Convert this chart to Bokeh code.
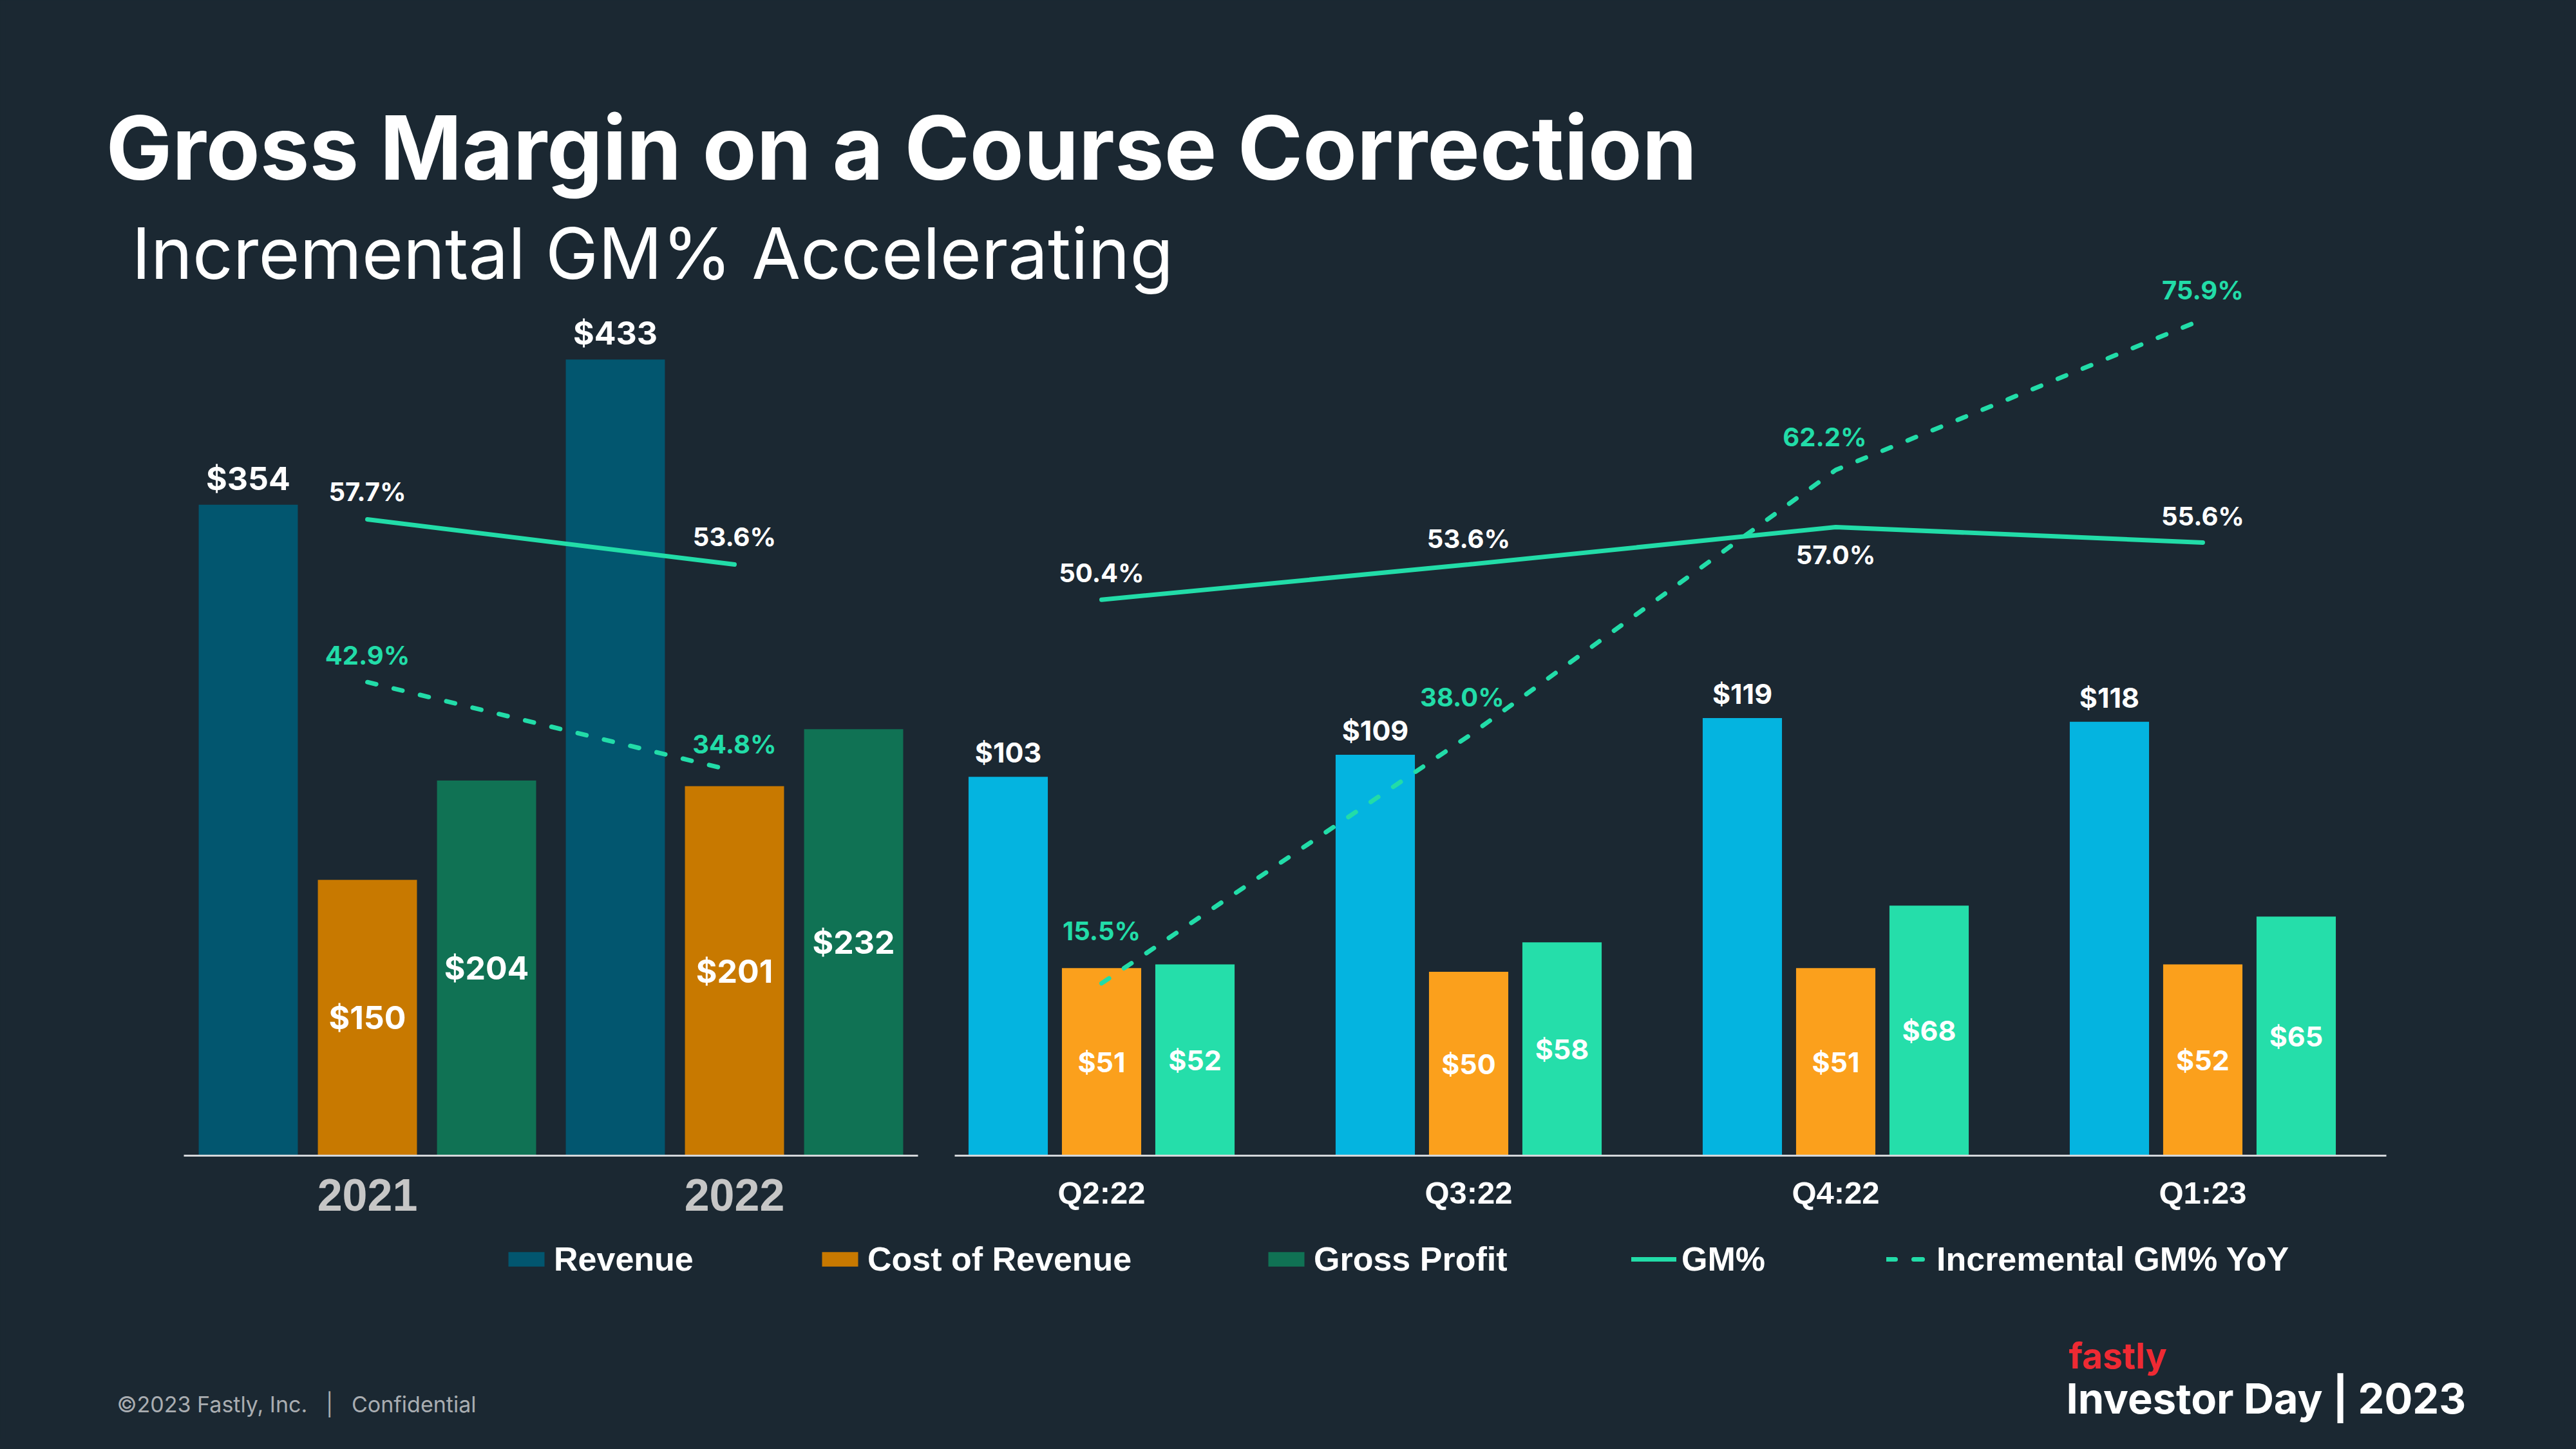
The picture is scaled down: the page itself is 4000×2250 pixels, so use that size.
import numpy as np
from bokeh.plotting import figure
from bokeh.models import (ColumnDataSource, FactorRange, Range1d, CategoricalAxis,
                          Label, Legend, LegendItem)
from bokeh.transform import dodge
from bokeh.core.properties import value
from bokeh.embed import file_html
from bokeh.resources import INLINE

# ---------------- data ----------------
years = ["2021", "2022"]
year_revenue = [354, 433]
year_cost = [150, 201]
year_gross_profit = [204, 232]
year_gm_pct = [57.7, 53.6]
year_incr_gm_pct = [42.9, 34.8]

quarters = ["Q2:22", "Q3:22", "Q4:22", "Q1:23"]
q_revenue = [103, 109, 119, 118]
q_cost = [51, 50, 51, 52]
q_gross_profit = [52, 58, 68, 65]
q_gm_pct = [50.4, 53.6, 57.0, 55.6]
q_incr_gm_pct = [15.5, 38.0, 62.2, 75.9]

series_names = ["Revenue", "Cost of Revenue", "Gross Profit", "GM%", "Incremental GM% YoY"]

title_text = "Gross Margin on a Course Correction"
subtitle_text = "Incremental GM% Accelerating"
footer_text = "\u00a92023 Fastly, Inc.\u00a0\u00a0\u00a0|\u00a0\u00a0\u00a0Confidential"

# ---------------- styles ----------------
W, H = 3984, 2234
BG = "#1B2832"
C_REV_D, C_COST_D, C_GP_D = "#02566F", "#C87900", "#107254"
C_REV_B, C_COST_B, C_GP_B = "#04B4E0", "#FBA01C", "#25DEAA"
MINT = "#22DCA8"
AXIS = "#D4D7DA"
DASH = "14 28"

# label placement (screen px) for the percentage labels
year_gm_dy = [-43, -43]
year_inc_dy = [-42, -42]
q_gm_dy = [-42, -40, 43, -41]
q_inc_dx = [0, -10, -17, 0]
q_inc_dy = [-81, -60, -51, -45]

# ---------------- figure ----------------
p = figure(width=W, height=H, output_backend="svg", toolbar_location=None,
           x_range=FactorRange(factors=years + quarters, factor_padding=0,
                               range_padding=0.486, range_padding_units="absolute"),
           y_range=Range1d(-154.11, 628.37),
           x_axis_location=None, y_axis_location=None,
           min_border_left=8, min_border_right=2, min_border_top=0, min_border_bottom=0,
           background_fill_color=BG, border_fill_color=BG, outline_line_color=None)
p.extra_y_ranges = {"q": Range1d(-77.06, 314.19), "pct": Range1d(-25.95, 104.92)}
p.grid.visible = False

def money(vals):
    return ["$%d" % v for v in vals]

def pct(vals):
    return ["%.1f%%" % v for v in vals]

ysrc = ColumnDataSource(dict(
    cat=years, rev=year_revenue, cost=year_cost, gp=year_gross_profit,
    cost_mid=[v / 2 for v in year_cost], gp_mid=[v / 2 for v in year_gross_profit],
    rev_lbl=money(year_revenue), cost_lbl=money(year_cost), gp_lbl=money(year_gross_profit),
    gm=year_gm_pct, inc=year_incr_gm_pct, gm_lbl=pct(year_gm_pct), inc_lbl=pct(year_incr_gm_pct),
    gm_dy=year_gm_dy, inc_dy=year_inc_dy))

qsrc = ColumnDataSource(dict(
    cat=quarters, rev=q_revenue, cost=q_cost, gp=q_gross_profit,
    cost_mid=[v / 2 for v in q_cost], gp_mid=[v / 2 for v in q_gross_profit],
    rev_lbl=money(q_revenue), cost_lbl=money(q_cost), gp_lbl=money(q_gross_profit),
    gm=q_gm_pct, inc=q_incr_gm_pct, gm_lbl=pct(q_gm_pct), inc_lbl=pct(q_incr_gm_pct),
    gm_dy=q_gm_dy, inc_dx=q_inc_dx, inc_dy=q_inc_dy))

LOFF, LW = 0.3246, 0.270
QOFF, QW = 0.2544, 0.216

lbl_font = value("Inter")

# annual bars
r_rev = p.vbar(x=dodge("cat", -LOFF, range=p.x_range), top="rev", width=LW, source=ysrc,
               fill_color=C_REV_D, line_color=None)
r_cost = p.vbar(x=dodge("cat", 0, range=p.x_range), top="cost", width=LW, source=ysrc,
                fill_color=C_COST_D, line_color=None)
r_gp = p.vbar(x=dodge("cat", LOFF, range=p.x_range), top="gp", width=LW, source=ysrc,
              fill_color=C_GP_D, line_color=None)

# quarterly bars
p.vbar(x=dodge("cat", -QOFF, range=p.x_range), top="rev", width=QW, source=qsrc,
       y_range_name="q", fill_color=C_REV_B, line_color=None)
p.vbar(x=dodge("cat", 0, range=p.x_range), top="cost", width=QW, source=qsrc,
       y_range_name="q", fill_color=C_COST_B, line_color=None)
p.vbar(x=dodge("cat", QOFF, range=p.x_range), top="gp", width=QW, source=qsrc,
       y_range_name="q", fill_color=C_GP_B, line_color=None)

# bar labels
for src, off, rng, size, dy in ((ysrc, LOFF, "default", "50px", -41), (qsrc, QOFF, "q", "43px", -38)):
    p.text(x=dodge("cat", -off, range=p.x_range), y="rev", text="rev_lbl", source=src,
           y_range_name=rng, y_offset=dy, text_font=lbl_font, text_font_style="bold",
           text_font_size=size, text_color="white", text_align="center",
           text_baseline="alphabetic")
    p.text(x=dodge("cat", 0, range=p.x_range), y="cost_mid", text="cost_lbl", source=src,
           y_range_name=rng, text_font=lbl_font, text_font_style="bold",
           text_font_size=size, text_color="white", text_align="center",
           text_baseline="middle")
    p.text(x=dodge("cat", off, range=p.x_range), y="gp_mid", text="gp_lbl", source=src,
           y_range_name=rng, text_font=lbl_font, text_font_style="bold",
           text_font_size=size, text_color="white", text_align="center",
           text_baseline="middle")

# GM% lines
r_gm = p.line(x="cat", y="gm", source=ysrc, y_range_name="pct", line_color=MINT,
              line_width=7, line_cap="round")
p.line(x="cat", y="gm", source=qsrc, y_range_name="pct", line_color=MINT,
       line_width=7, line_cap="round")
r_inc = p.line(x="cat", y="inc", source=ysrc, y_range_name="pct", line_color=MINT,
               line_width=7, line_cap="round", line_dash=DASH)
p.line(x="cat", y="inc", source=qsrc, y_range_name="pct", line_color=MINT,
       line_width=7, line_cap="round", line_dash=DASH)

for src in (ysrc, qsrc):
    p.text(x="cat", y="gm", text="gm_lbl", source=src, y_range_name="pct", y_offset="gm_dy",
           text_font=lbl_font, text_font_style="bold", text_font_size="40px",
           text_color="white", text_align="center", text_baseline="alphabetic")
p.text(x="cat", y="inc", text="inc_lbl", source=ysrc, y_range_name="pct", y_offset="inc_dy",
       text_font=lbl_font, text_font_style="bold", text_font_size="40px",
       text_color=MINT, text_align="center", text_baseline="alphabetic")
p.text(x="cat", y="inc", text="inc_lbl", source=qsrc, y_range_name="pct",
       x_offset="inc_dx", y_offset="inc_dy",
       text_font=lbl_font, text_font_style="bold", text_font_size="40px",
       text_color=MINT, text_align="center", text_baseline="alphabetic")

# category axes at the zero line
ax_years = CategoricalAxis(bounds=(0, 2), fixed_location=0,
                           axis_line_color=AXIS, axis_line_width=3,
                           major_tick_line_color=None, minor_tick_line_color=None,
                           major_tick_out=0, major_tick_in=0, major_label_standoff=36,
                           major_label_text_font="Liberation Sans",
                           major_label_text_font_style="bold",
                           major_label_text_font_size="70px",
                           major_label_text_color="#C6C6C6")
ax_q = CategoricalAxis(bounds=(2.1, 6), fixed_location=0,
                       axis_line_color=AXIS, axis_line_width=3,
                       major_tick_line_color=None, minor_tick_line_color=None,
                       major_tick_out=0, major_tick_in=0, major_label_standoff=30,
                       major_label_text_font="Liberation Sans",
                       major_label_text_font_style="bold",
                       major_label_text_font_size="49px",
                       major_label_text_color="white")
p.add_layout(ax_years, "below")
p.add_layout(ax_q, "below")

# legend (one entry per position)
legend_x = [774, 1261, 1954, 2525, 2921]
for name, rend, lx in zip(series_names, [r_rev, r_cost, r_gp, r_gm, r_inc], legend_x):
    leg = Legend(items=[LegendItem(label=name, renderers=[rend])], location=(lx, 249),
                 orientation="horizontal", glyph_width=70, glyph_height=28,
                 label_standoff=8, padding=0, margin=0, spacing=0,
                 label_text_font="Liberation Sans", label_text_font_size="52px",
                 label_text_font_style="bold",
                 label_text_color="white", background_fill_alpha=0,
                 border_line_alpha=0)
    p.add_layout(leg)

# slide texts
def add_label(text, x, y, size, color, style="normal", font="Inter"):
    p.add_layout(Label(x=x, y=y, x_units="screen", y_units="screen", text=text,
                       text_font=font, text_font_size=size, text_font_style=style,
                       text_color=color, text_align="left", text_baseline="alphabetic"))

add_label(title_text, 156, 2006, "137px", "#FFFFFF", "bold")
add_label(subtitle_text, 196, 1842, "110px", "#FFFFFF")
add_label(footer_text, 173, 54, "34px", "#A9ADB1")
add_label("fastly", 3204, 130, "55px", "#EE2A33", "bold")
add_label("Investor Day | 2023", 3200, 63, "65px", "#FFFFFF", "bold")

html = file_html(p, INLINE, title="Gross Margin on a Course Correction")
html = html.replace("<head>", "<head><style>html,body{background:%s;}</style>" % BG, 1)
open("out.html", "w").write(html)
